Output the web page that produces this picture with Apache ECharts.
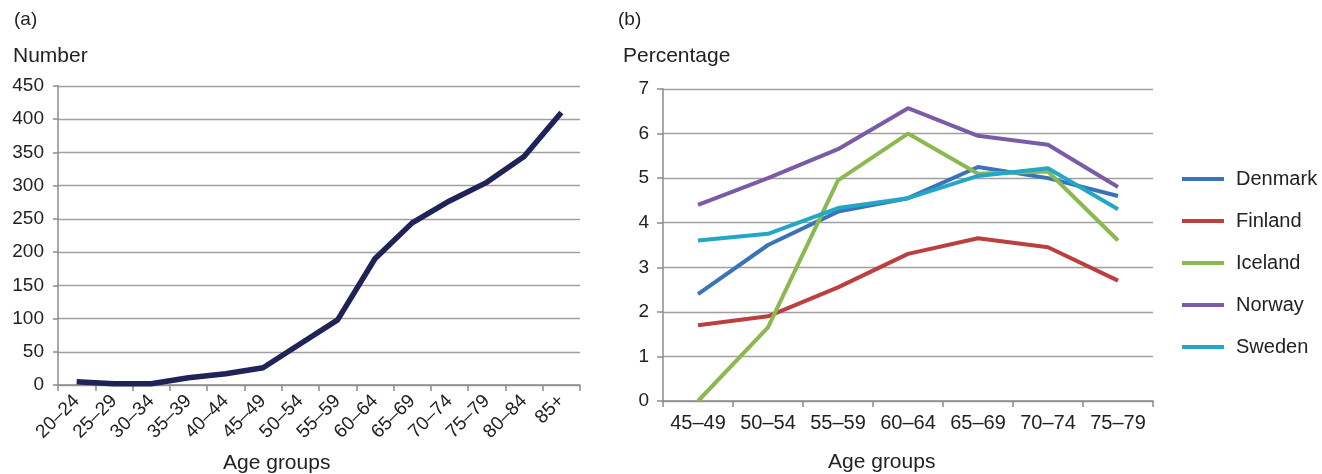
<!DOCTYPE html>
<html><head><meta charset="utf-8">
<script src="https://cdn.jsdelivr.net/npm/echarts@6/dist/echarts.min.js"></script>
<style>html,body{margin:0;padding:0;background:#fff}#c{width:1322px;height:474px}</style>
</head><body><div id="c"></div>
<script>
const ageA = ['20–24','25–29','30–34','35–39','40–44','45–49','50–54','55–59','60–64','65–69','70–74','75–79','80–84','85+'];
const numberA = [5, 2, 2, 11, 17, 26, 62, 98, 190, 244, 277, 305, 344, 410];
const ageB = ['45–49','50–54','55–59','60–64','65–69','70–74','75–79'];
const denmark = [2.4, 3.5, 4.25, 4.55, 5.25, 5.0, 4.6];
const finland = [1.7, 1.9, 2.55, 3.3, 3.65, 3.45, 2.7];
const iceland = [0, 1.65, 4.95, 6.0, 5.1, 5.15, 3.6];
const norway = [4.4, 5.0, 5.65, 6.57, 5.95, 5.75, 4.8];
const sweden = [3.6, 3.75, 4.33, 4.55, 5.05, 5.22, 4.3];
const ticksA = [0, 50, 100, 150, 200, 250, 300, 350, 400, 450];
const ticksB = [0, 1, 2, 3, 4, 5, 6, 7];

const font = 'Liberation Sans, Arial, sans-serif';
const txt = '#222';
const gridCol = '#a0a0a0';
const axisCol = '#8c8c8c';

const chart = echarts.init(document.getElementById('c'), null, {renderer: 'canvas'});
const mkSeries = (name, data, color) => ({
  name, type: 'line', xAxisIndex: 1, yAxisIndex: 1, data, symbol: 'none',
  lineStyle: {color, width: 4}, itemStyle: {color}, smooth: false
});
chart.setOption({
  animation: false,
  textStyle: {fontFamily: font},
  grid: [
    {left: 58, top: 86, width: 522, height: 299, containLabel: false},
    {left: 663, top: 89, width: 490, height: 312, containLabel: false}
  ],
  xAxis: [
    {type: 'category', gridIndex: 0, data: ageA, boundaryGap: true,
     axisLine: {lineStyle: {color: axisCol, width: 1.5}},
     axisTick: {show: true, length: 6, interval: 0, lineStyle: {color: axisCol, width: 1.5}},
     axisLabel: {rotate: 45, interval: 0, fontSize: 19, color: txt, fontFamily: font, margin: 13, padding: [12, 0, 0, 0]}},
    {type: 'category', gridIndex: 1, data: ageB, boundaryGap: true,
     axisLine: {lineStyle: {color: axisCol, width: 1.5}},
     axisTick: {show: true, length: 6, interval: 0, lineStyle: {color: axisCol, width: 1.5}},
     axisLabel: {interval: 0, fontSize: 20, color: txt, fontFamily: font, margin: 12}}
  ],
  yAxis: [
    {type: 'value', gridIndex: 0, min: ticksA[0], max: ticksA[ticksA.length-1], interval: 50,
     axisLine: {show: true, lineStyle: {color: axisCol, width: 1.5}},
     axisTick: {show: true, length: 5, lineStyle: {color: axisCol, width: 1.5}},
     splitLine: {lineStyle: {color: gridCol, width: 1.3}},
     axisLabel: {fontSize: 19, color: txt, fontFamily: font, margin: 14}},
    {type: 'value', gridIndex: 1, min: ticksB[0], max: ticksB[ticksB.length-1], interval: 1,
     axisLine: {show: true, lineStyle: {color: axisCol, width: 1.5}},
     axisTick: {show: true, length: 6, lineStyle: {color: axisCol, width: 1.5}},
     splitLine: {lineStyle: {color: gridCol, width: 1.3}},
     axisLabel: {fontSize: 19, color: txt, fontFamily: font, margin: 14}}
  ],
  legend: {
    orient: 'vertical', left: 1177, top: 164, itemGap: 22, itemWidth: 42, itemHeight: 4,
    icon: 'rect', textStyle: {fontSize: 20, color: txt, fontFamily: font, padding: [0,0,0,7]},
    data: ['Denmark','Finland','Iceland','Norway','Sweden']
  },
  graphic: [
    {type: 'text', left: 14, top: 10, style: {text: '(a)', fontSize: 19, fill: txt, fontFamily: font}},
    {type: 'text', left: 13, top: 46, style: {text: 'Number', fontSize: 21, fill: txt, fontFamily: font}},
    {type: 'text', left: 223, top: 453, style: {text: 'Age groups', fontSize: 21, fill: txt, fontFamily: font}},
    {type: 'text', left: 618, top: 10, style: {text: '(b)', fontSize: 19, fill: txt, fontFamily: font}},
    {type: 'text', left: 623, top: 46, style: {text: 'Percentage', fontSize: 21, fill: txt, fontFamily: font}},
    {type: 'text', left: 828, top: 452, style: {text: 'Age groups', fontSize: 21, fill: txt, fontFamily: font}}
  ],
  series: [
    {name: 'Number', type: 'line', xAxisIndex: 0, yAxisIndex: 0, data: numberA, symbol: 'none',
     lineStyle: {color: '#1f2357', width: 5.5}, itemStyle: {color: '#1f2357'}},
    mkSeries('Denmark', denmark, '#3a73ba'),
    mkSeries('Finland', finland, '#bb3f3f'),
    mkSeries('Iceland', iceland, '#8bb84f'),
    mkSeries('Norway', norway, '#7a5ba7'),
    mkSeries('Sweden', sweden, '#22a7c6')
  ]
});
</script></body></html>
